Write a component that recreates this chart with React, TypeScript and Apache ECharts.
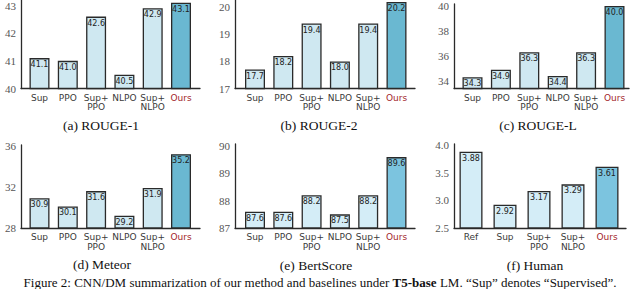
import React, { useEffect, useRef } from "react";
import * as echarts from "echarts";

// ---- data ----
const catsMain = ["Sup", "PPO", "Sup+\nPPO", "NLPO", "Sup+\nNLPO", "Ours"];
const catsHuman = ["Ref", "Sup", "Sup+\nPPO", "Sup+\nNLPO", "Ours"];
const rouge1 = [41.1, 41.0, 42.6, 40.5, 42.9, 43.1];
const rouge2 = [17.7, 18.2, 19.4, 18.0, 19.4, 20.2];
const rougeL = [34.3, 34.9, 36.3, 34.4, 36.3, 40.0];
const meteor = [30.9, 30.1, 31.6, 29.2, 31.9, 35.2];
const bertScore = [87.6, 87.6, 88.2, 87.5, 88.2, 89.6];
const human = [3.88, 2.92, 3.17, 3.29, 3.61];
const ticksR1 = [40, 41, 42, 43];
const ticksR2 = [17, 18, 19, 20];
const ticksRL = [34, 36, 38, 40];
const ticksMeteor = [28, 32, 36];
const ticksBert = [87, 88, 89, 90];
const ticksHuman = [2.5, 3.0, 3.5, 4.0];
const rangeR1 = [40, 43.2];
const rangeR2 = [17, 20.27];
const rangeRL = [33.4, 40.16];
const rangeMeteor = [28, 36.1];
const rangeBert = [87, 90.08];
const rangeHuman = [2.5, 4.02];
const captions = ["(a) ROUGE-1", "(b) ROUGE-2", "(c) ROUGE-L", "(d) Meteor", "(e) BertScore", "(f) Human"];

const panels = [
  { cats: catsMain, vals: rouge1, ticks: ticksR1, range: rangeR1, dec: 1, tickDec: 0 },
  { cats: catsMain, vals: rouge2, ticks: ticksR2, range: rangeR2, dec: 1, tickDec: 0 },
  { cats: catsMain, vals: rougeL, ticks: ticksRL, range: rangeRL, dec: 1, tickDec: 0 },
  { cats: catsMain, vals: meteor, ticks: ticksMeteor, range: rangeMeteor, dec: 1, tickDec: 0 },
  { cats: catsMain, vals: bertScore, ticks: ticksBert, range: rangeBert, dec: 1, tickDec: 0 },
  { cats: catsHuman, vals: human, ticks: ticksHuman, range: rangeHuman, dec: 2, tickDec: 1 },
];

// ---- layout (styling) ----
const H = 289;
const layout = [
  { sl: 21, sr: 200, bl: 25.35, bw: 169.8, top: 0, bottom: 88.5, barW: 20, cx: 101, cy: 125, light: "#cfe8f1", dark: "#6ab8d1" },
  { sl: 235, sr: 415, bl: 240.85, bw: 169.8, top: 0, bottom: 88.5, barW: 20, cx: 319, cy: 125, light: "#cfe8f1", dark: "#6ab8d1" },
  { sl: 454, sr: 629, bl: 458.3, bw: 170.4, top: 4, bottom: 88.5, barW: 20, cx: 538, cy: 125, light: "#cfe8f1", dark: "#6ab8d1" },
  { sl: 21, sr: 200, bl: 25.35, bw: 169.8, top: 145, bottom: 228, barW: 20, cx: 102, cy: 264, light: "#cfe8f1", dark: "#6ab8d1" },
  { sl: 235, sr: 415, bl: 240.85, bw: 169.8, top: 144, bottom: 228, barW: 20, cx: 316, cy: 265, light: "#d4edf7", dark: "#7cc4df" },
  { sl: 454, sr: 626, bl: 454, bw: 170, top: 144, bottom: 228, barW: 23, cx: 535, cy: 265, light: "#d4edf7", dark: "#7cc4df" },
];

const EDGE = "#2a2a2a";
const RED = "#a3272c";
const SERIF = "Liberation Serif";
const SANS = "DejaVu Sans";

export default function App() {
  const ref = useRef<HTMLDivElement>(null);
  useEffect(() => {
    if (!ref.current) return;
    const chart = echarts.init(ref.current, undefined, { renderer: "svg" });
    const grid: any[] = [];
    const xAxis: any[] = [];
    const yAxis: any[] = [];
    const series: any[] = [];
    const graphic: any[] = [];
    panels.forEach((p, i) => {
      const L = layout[i];
      const height = L.bottom - L.top;
      const gf = grid.length;
      grid.push({ left: L.sl, top: L.top, width: L.sr - L.sl, height });
      const gb = grid.length;
      grid.push({ left: L.bl, top: L.top, width: L.bw, height });
      xAxis.push({
        type: "value", gridIndex: gf, min: 0, max: 1,
        axisLine: { show: true, onZero: false, lineStyle: { color: EDGE, width: 1.3 } },
        axisTick: { show: false }, axisLabel: { show: false }, splitLine: { show: false },
      });
      yAxis.push({
        type: "value", gridIndex: gf, min: p.range[0], max: p.range[1],
        axisLine: { show: true, lineStyle: { color: EDGE, width: 1.3 } },
        axisTick: { show: false }, splitLine: { show: false },
        axisLabel: {
          customValues: p.ticks, margin: 5, color: "#555", fontFamily: SERIF, fontSize: 11,
          formatter: (v: number) => v.toFixed(p.tickDec),
        },
      });
      const xb = xAxis.length;
      xAxis.push({
        type: "category", gridIndex: gb, data: p.cats,
        axisLine: { show: false }, axisTick: { show: false },
        axisLabel: {
          interval: 0, margin: 4.5, color: "#3a3a3a", fontFamily: SANS, fontSize: 9, lineHeight: 9.5,
          formatter: (v: string) => (v === "Ours" ? "{o|Ours}" : v),
          rich: { o: { color: RED, fontFamily: SANS, fontSize: 9, lineHeight: 9.5 } },
        },
      });
      const yb = yAxis.length;
      yAxis.push({ type: "value", gridIndex: gb, min: p.range[0], max: p.range[1], show: false });
      series.push({
        type: "bar", xAxisIndex: xb, yAxisIndex: yb,
        barWidth: L.barW,
        data: p.vals.map((v, k) => ({
          value: v,
          itemStyle: { color: p.cats[k] === "Ours" ? L.dark : L.light },
        })),
        itemStyle: { borderColor: EDGE, borderWidth: 1.3 },
        label: {
          show: true, position: "insideTop", distance: 2.5, color: "#222",
          fontFamily: SANS, fontSize: 8,
          formatter: (d: any) => Number(d.value).toFixed(p.dec),
        },
      });
      graphic.push({
        type: "text", x: L.cx, y: L.cy,
        style: {
          text: `{c|${captions[i]}}`,
          align: "center", verticalAlign: "middle",
          rich: { c: { fontFamily: SERIF, fontSize: 13.5, fill: "#111" } },
        },
      });
    });
    graphic.push({
      type: "text", x: 320, y: 282.5,
      style: {
        text: "{n|Figure 2: CNN/DM summarization of our method and baselines under }{b|T5-base}{n| LM. “Sup” denotes “Supervised”.}",
        align: "center", verticalAlign: "middle",
        rich: {
          n: { fontFamily: SERIF, fontSize: 13, fill: "#111" },
          b: { fontFamily: SERIF, fontSize: 13, fontWeight: "bold", fill: "#111" },
        },
      },
    });
    chart.setOption({ animation: false, grid, xAxis, yAxis, series, graphic });
    return () => chart.dispose();
  }, []);
  return (
    <div
      ref={ref}
      style={{ position: "fixed", left: 0, top: 0, width: 640, height: H, background: "#fff" }}
    />
  );
}
